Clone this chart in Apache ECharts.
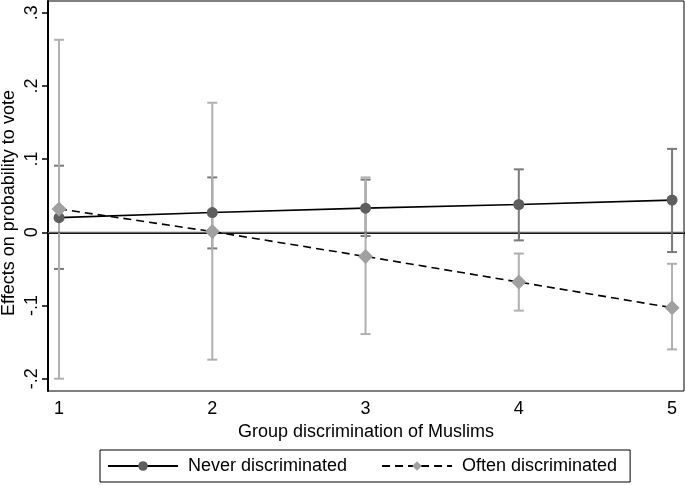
<!DOCTYPE html>
<html>
<head>
<meta charset="utf-8">
<script src="https://cdn.jsdelivr.net/npm/echarts@6/dist/echarts.min.js"></script>
<style>html,body{margin:0;padding:0;background:#fff}#c{width:685px;height:485px}</style>
</head>
<body>
<div id="c"></div>
<script>
var xs = [1, 2, 3, 4, 5];
var never = [0.020, 0.027, 0.033, 0.038, 0.044];
var neverLow = [-0.050, -0.022, -0.005, -0.011, -0.027];
var neverHigh = [0.091, 0.075, 0.072, 0.086, 0.114];
var often = [0.032, 0.001, -0.033, -0.068, -0.103];
var oftenLow = [-0.200, -0.174, -0.139, -0.107, -0.160];
var oftenHigh = [0.263, 0.177, 0.075, -0.029, -0.043];
var xTicks = [1, 2, 3, 4, 5];
var yTicks = [-0.2, -0.1, 0, 0.1, 0.2, 0.3];
var yTickLabels = ['-.2', '-.1', '0', '.1', '.2', '.3'];
var yTitle = 'Effects on probability to vote';

var FONT = 'Liberation Sans, Arial, Helvetica, sans-serif';
var FS = 18;

function errData(low, high) {
  return xs.map(function (x, i) { return [x, low[i], high[i]]; });
}
function errSeries(name, low, high, color) {
  return {
    type: 'custom',
    name: name,
    silent: true,
    z: 2,
    data: errData(low, high),
    renderItem: function (params, api) {
      var x = api.value(0);
      var lo = api.coord([x, api.value(1)]);
      var hi = api.coord([x, api.value(2)]);
      var w = 5;
      var st = { stroke: color, lineWidth: 2 };
      return {
        type: 'group',
        children: [
          { type: 'line', shape: { x1: lo[0], y1: lo[1], x2: hi[0], y2: hi[1] }, style: st },
          { type: 'line', shape: { x1: lo[0] - w, y1: lo[1], x2: lo[0] + w, y2: lo[1] }, style: st },
          { type: 'line', shape: { x1: hi[0] - w, y1: hi[1], x2: hi[0] + w, y2: hi[1] }, style: st }
        ]
      };
    }
  };
}

var chart = echarts.init(document.getElementById('c'));
chart.setOption({
  animation: false,
  backgroundColor: '#fff',
  grid: { left: 48, top: 1, right: 1, bottom: 94, show: true, borderColor: '#000', borderWidth: 1, containLabel: false, outerBoundsMode: 'none' },
  graphic: [{
    type: 'text', x: 9, y: 203, rotation: Math.PI / 2, silent: true,
    style: { text: yTitle, fill: '#000', font: FS + 'px ' + FONT, align: 'center', verticalAlign: 'middle' }
  }],
  xAxis: {
    type: 'value', min: 0.928, max: 5.078,
    axisLine: { show: true, lineStyle: { color: '#000', width: 2 } },
    axisTick: { show: true, customValues: xTicks, length: 6, lineStyle: { color: '#000', width: 1.5 } },
    axisLabel: { customValues: xTicks, color: '#000', fontSize: FS, fontFamily: FONT, margin: 9 },
    splitLine: { show: false },
    name: 'Group discrimination of Muslims', nameLocation: 'middle', nameGap: 29,
    nameTextStyle: { color: '#000', fontSize: FS, fontFamily: FONT }
  },
  yAxis: {
    type: 'value', min: -0.2168, max: 0.316,
    axisLine: { show: true, lineStyle: { color: '#000', width: 2 } },
    axisTick: { show: true, customValues: yTicks, length: 6, lineStyle: { color: '#000', width: 1.5 } },
    axisLabel: {
      customValues: yTicks, rotate: 90, color: '#000', fontSize: FS, fontFamily: FONT, margin: 7,
      formatter: function (v) {
        for (var i = 0; i < yTicks.length; i++) { if (Math.abs(v - yTicks[i]) < 1e-6) return yTickLabels[i]; }
        return '';
      }
    },
    splitLine: { show: false }
  },
  legend: {
    left: 100, top: 450,
    borderColor: '#000', borderWidth: 1, padding: [7, 13, 7, 7],
    itemWidth: 70, itemHeight: 12, itemGap: 34,
    textStyle: { color: '#000', fontSize: FS, fontFamily: FONT, padding: [0, 0, 0, 5] },
    data: ['Never discriminated', 'Often discriminated']
  },
  series: [
    errSeries('neverCI', neverLow, neverHigh, '#7a7a7a'),
    errSeries('oftenCI', oftenLow, oftenHigh, '#b0b0b0'),
    {
      type: 'line', name: 'Never discriminated', z: 4,
      data: xs.map(function (x, i) { return [x, never[i]]; }),
      symbol: 'circle', symbolSize: 11,
      itemStyle: { color: '#5e5e5e' },
      lineStyle: { color: '#000', width: 1.6, type: 'solid' },
      markLine: {
        silent: true, symbol: 'none', label: { show: false },
        lineStyle: { color: '#666', width: 1.3, type: 'solid' },
        data: [{ yAxis: 0 }]
      }
    },
    {
      type: 'line', name: 'Often discriminated', z: 5,
      data: xs.map(function (x, i) { return [x, often[i]]; }),
      symbol: 'diamond', symbolSize: [15, 15],
      itemStyle: { color: '#a0a0a0' },
      lineStyle: { color: '#000', width: 1.6, type: [8, 5] }
    }
  ]
});
</script>
</body>
</html>
